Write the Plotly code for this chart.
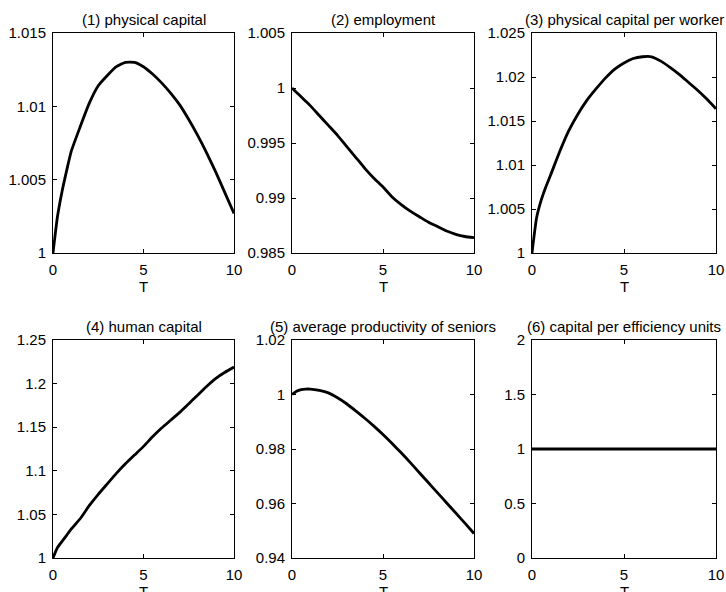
import plotly.graph_objects as go

# ---- data ----
T = [0, 0.25, 0.5, 0.75, 1, 1.5, 2, 2.5, 3, 3.5, 4, 4.5, 5, 5.5, 6, 6.5, 7, 7.5, 8, 8.5, 9, 9.5, 10]

physical_capital = [1.0, 1.0025, 1.0042, 1.0056, 1.0069, 1.0086, 1.0102, 1.0114, 1.0121, 1.0127, 1.0130,
                    1.0130, 1.0127, 1.0122, 1.0116, 1.0109, 1.0101, 1.0091, 1.0080, 1.0068, 1.0055, 1.0041, 1.0027]
employment = [1.0, 0.9996, 0.9992, 0.9988, 0.9984, 0.9975, 0.9966, 0.9957, 0.9947, 0.9937, 0.9927,
              0.9918, 0.9910, 0.9901, 0.9894, 0.9888, 0.9883, 0.9878, 0.9874, 0.9870, 0.9867, 0.9865, 0.9864]
capital_per_worker = [1.0, 1.0040, 1.0060, 1.0075, 1.0088, 1.0115, 1.0139, 1.0158, 1.0174, 1.0187, 1.0199,
                      1.0209, 1.0216, 1.0221, 1.0223, 1.0223, 1.0218, 1.0211, 1.0203, 1.0194, 1.0185, 1.0175, 1.0164]
human_capital = [1.0, 1.012, 1.019, 1.026, 1.033, 1.045, 1.060, 1.073, 1.085, 1.097, 1.108,
                 1.118, 1.128, 1.139, 1.149, 1.158, 1.167, 1.177, 1.187, 1.197, 1.206, 1.213, 1.219]
senior_productivity = [1.0, 1.0012, 1.0018, 1.0020, 1.0020, 1.0015, 1.0006, 0.9988, 0.9966, 0.9940, 0.9913,
                       0.9884, 0.9853, 0.9820, 0.9786, 0.9750, 0.9713, 0.9676, 0.9639, 0.9602, 0.9565, 0.9528, 0.9490]
capital_per_eff = [1.0] * len(T)

titles = ["(1) physical capital", "(2) employment", "(3) physical capital per worker",
          "(4) human capital", "(5) average productivity of seniors", "(6) capital per efficiency units"]
series = [physical_capital, employment, capital_per_worker, human_capital, senior_productivity, capital_per_eff]

x_ticks = [0, 5, 10]
x_ticktext = ["0", "5", "10"]
y_ticks = [
    [1, 1.005, 1.01, 1.015],
    [0.985, 0.99, 0.995, 1, 1.005],
    [1, 1.005, 1.01, 1.015, 1.02, 1.025],
    [1, 1.05, 1.1, 1.15, 1.2, 1.25],
    [0.94, 0.96, 0.98, 1, 1.02],
    [0, 0.5, 1, 1.5, 2],
]
y_ticktext = [
    ["1", "1.005", "1.01", "1.015"],
    ["0.985", "0.99", "0.995", "1", "1.005"],
    ["1", "1.005", "1.01", "1.015", "1.02", "1.025"],
    ["1", "1.05", "1.1", "1.15", "1.2", "1.25"],
    ["0.94", "0.96", "0.98", "1", "1.02"],
    ["0", "0.5", "1", "1.5", "2"],
]
y_ranges = [[1, 1.015], [0.985, 1.005], [1, 1.025], [1, 1.25], [0.94, 1.02], [0, 2]]

# ---- layout geometry ----
W, H = 726, 592
col_px = [(53, 234), (292, 474), (532, 716)]
row_px = [(33, 253), (340, 558)]
FONT = "Liberation Sans, Arial, Helvetica, sans-serif"
FS = 15

fig = go.Figure()
annotations = []
for i in range(6):
    r, c = divmod(i, 3)
    xd = [col_px[c][0] / W, col_px[c][1] / W]
    yd = [1 - row_px[r][1] / H, 1 - row_px[r][0] / H]
    sfx = "" if i == 0 else str(i + 1)
    fig.add_trace(go.Scatter(x=T, y=series[i], mode="lines",
                             line=dict(color="black", width=2.8, shape="spline", smoothing=0.5),
                             xaxis="x" + sfx, yaxis="y" + sfx, showlegend=False, hoverinfo="skip"))
    common = dict(showline=True, linecolor="black", linewidth=1, mirror="ticks",
                  ticks="inside", ticklen=4, tickcolor="black", tickwidth=1,
                  showgrid=False, zeroline=False, automargin=False,
                  tickfont=dict(family=FONT, size=FS, color="black"))
    fig.update_layout(**{
        "xaxis" + sfx: dict(domain=xd, range=[0, 10], tickvals=x_ticks, ticktext=x_ticktext,
                            anchor="y" + sfx, ticklabelstandoff=3, **common),
        "yaxis" + sfx: dict(domain=yd, range=y_ranges[i], tickvals=y_ticks[i], ticktext=y_ticktext[i],
                            anchor="x" + sfx, ticklabelstandoff=3, **common),
    })
    xc = (xd[0] + xd[1]) / 2
    annotations.append(dict(text=titles[i], x=xc, y=yd[1], xref="paper", yref="paper",
                            xanchor="center", yanchor="bottom", yshift=3, showarrow=False,
                            font=dict(family=FONT, size=FS, color="black")))
    annotations.append(dict(text="T", x=xc, y=yd[0], xref="paper", yref="paper",
                            xanchor="center", yanchor="top", yshift=-23, showarrow=False,
                            font=dict(family=FONT, size=FS, color="black")))

fig.update_layout(width=W, height=H, autosize=False, margin=dict(l=0, r=0, t=0, b=0),
                  paper_bgcolor="white", plot_bgcolor="white", annotations=annotations)

fig.write_html("out.html", config={"displayModeBar": False},
               post_script="document.body.style.margin='0';document.body.style.overflow='hidden';")
